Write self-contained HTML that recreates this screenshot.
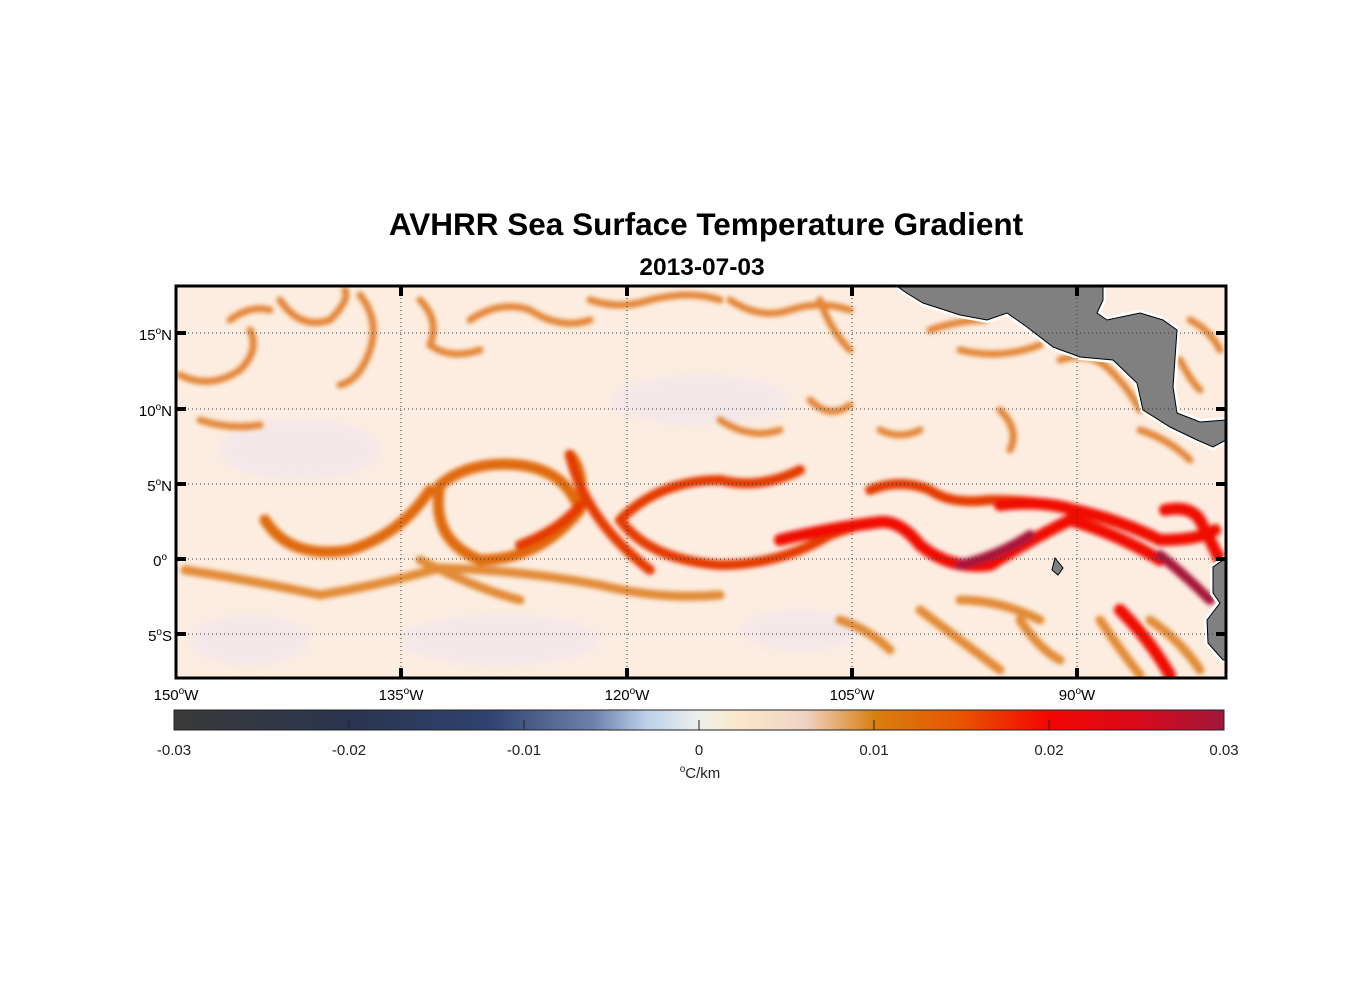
<!DOCTYPE html>
<html><head><style>
body{margin:0;background:#fff;width:1356px;height:1000px;overflow:hidden;font-family:"Liberation Sans",Arial,sans-serif;}
</style></head><body>
<svg width="1356" height="1000" xmlns="http://www.w3.org/2000/svg" font-family="Liberation Sans, Arial, sans-serif">
<defs>
<filter id="b" x="-10%" y="-10%" width="120%" height="120%"><feGaussianBlur stdDeviation="2.2"/></filter>
<filter id="b2" x="-10%" y="-10%" width="120%" height="120%"><feGaussianBlur stdDeviation="5"/></filter>
<clipPath id="c"><rect x="176" y="286" width="1050" height="392"/></clipPath>
<linearGradient id="cb" x1="0" x2="1" y1="0" y2="0">
<stop offset="0" stop-color="#3a3a3a"/>
<stop offset="0.17" stop-color="#2a3450"/>
<stop offset="0.3" stop-color="#2f4370"/>
<stop offset="0.4" stop-color="#6e82ad"/>
<stop offset="0.45" stop-color="#bcd0ea"/>
<stop offset="0.5" stop-color="#eef0ec"/>
<stop offset="0.54" stop-color="#fbe7c9"/>
<stop offset="0.6" stop-color="#f0d3c8"/>
<stop offset="0.667" stop-color="#d8800f"/>
<stop offset="0.75" stop-color="#e85400"/>
<stop offset="0.833" stop-color="#f40600"/>
<stop offset="0.92" stop-color="#d80a1c"/>
<stop offset="1" stop-color="#a0173a"/>
</linearGradient>
</defs>
<text x="706" y="235" font-size="31.5" font-weight="bold" text-anchor="middle">AVHRR Sea Surface Temperature Gradient</text>
<text x="702" y="275" font-size="24.5" font-weight="bold" text-anchor="middle">2013-07-03</text>
<g clip-path="url(#c)">
<rect x="176" y="286" width="1050" height="392" fill="#fcede0"/>
<g filter="url(#b2)" fill="#f1e6ec" opacity="0.8">
<ellipse cx="300" cy="450" rx="80" ry="30"/><ellipse cx="700" cy="400" rx="90" ry="25"/><ellipse cx="500" cy="640" rx="100" ry="25"/><ellipse cx="800" cy="630" rx="60" ry="20"/><ellipse cx="250" cy="640" rx="60" ry="25"/>
</g>
<g fill="none" stroke-linecap="round" filter="url(#b)">
<g stroke="#de7414" stroke-width="7" opacity="0.85">
<path d="M180,375 Q210,390 240,370 Q260,350 250,330"/>
<path d="M280,300 Q300,330 330,320 Q350,300 345,290"/>
<path d="M360,295 Q380,320 370,350 Q360,380 340,385"/>
<path d="M420,300 Q440,320 430,345 Q450,360 480,350"/>
<path d="M470,320 Q500,300 530,310 Q560,330 590,320"/>
<path d="M590,300 Q620,310 650,300 Q690,290 720,300"/>
<path d="M730,300 Q760,320 790,310 Q820,300 850,310"/>
<path d="M820,300 Q830,330 850,350"/>
<path d="M230,320 Q250,305 270,310"/>
<path d="M200,420 Q230,430 260,425"/>
<path d="M810,400 Q830,420 850,405"/>
<path d="M720,420 Q750,440 780,430"/>
<path d="M960,350 Q1000,360 1040,345"/>
<path d="M930,330 Q960,320 985,320"/>
<path d="M1060,360 Q1090,350 1110,370 Q1130,390 1140,410"/>
<path d="M1000,410 Q1020,430 1010,450"/>
<path d="M1180,360 Q1190,380 1200,390"/>
<path d="M1140,430 Q1170,440 1190,460"/>
<path d="M880,430 Q900,440 920,430"/>
<path d="M1190,320 Q1210,330 1220,350"/>
</g>
<g stroke="#dd7a1a" stroke-width="9" opacity="0.85">
<path d="M185,570 Q250,580 320,595 Q380,585 440,568 Q520,570 600,585 Q660,600 720,595"/>
<path d="M420,560 Q480,590 520,600"/>
<path d="M920,610 Q960,640 1000,670"/>
<path d="M1020,620 Q1040,650 1060,660"/>
<path d="M960,600 Q1000,600 1040,620"/>
<path d="M1100,620 Q1120,650 1140,675"/>
<path d="M1150,620 Q1180,640 1200,670"/>
<path d="M840,620 Q870,630 890,650"/>
</g>
<g stroke="#e06b08" stroke-width="11">
<path d="M265,520 Q290,560 350,550 Q400,535 430,490"/>
<path d="M440,485 Q430,540 480,560 Q540,560 580,510 Q585,470 570,455"/>
<path d="M440,485 Q470,460 520,465 Q560,470 575,500"/>
</g>
<g stroke="#e53a05" stroke-width="10">
<path d="M570,455 Q585,520 650,570"/>
<path d="M520,545 Q560,530 580,505"/>
<path d="M620,520 Q660,480 720,480 Q760,490 800,470"/>
<path d="M620,520 Q650,560 720,565 Q780,565 830,535 Q870,520 890,522"/>
<path d="M870,490 Q900,478 930,490 Q950,505 990,500 Q1040,500 1070,510"/>
</g>
<g stroke="#f00800" stroke-width="12">
<path d="M780,540 Q830,528 880,522 Q900,520 920,545 Q950,570 990,565 Q1030,540 1070,520 Q1120,535 1160,560"/>
<path d="M1000,505 Q1040,500 1075,510 Q1120,520 1160,540 Q1200,540 1215,530"/>
<path d="M1165,510 Q1190,505 1200,520 Q1210,540 1220,560"/>
<path d="M1120,610 Q1150,640 1170,675"/>
</g>
<g stroke="#a8183a" stroke-width="10">
<path d="M960,565 Q1000,555 1030,535"/>
<path d="M1160,555 Q1185,575 1210,600"/>
</g>
</g>
<path d="M897,286 L905,292 L923,303 L960,315 L987,320 L1007,313 L1027,327 L1053,347 L1080,357 L1113,360 L1137,383 L1143,410 L1170,427 L1197,440 L1213,447 L1226,440 L1226,420 L1200,422 L1177,413 L1173,387 L1177,330 L1163,320 L1140,313 L1107,320 L1097,313 L1103,300 L1103,286 Z" fill="#808080" stroke="#fff" stroke-width="6"/>
<path d="M897,286 L905,292 L923,303 L960,315 L987,320 L1007,313 L1027,327 L1053,347 L1080,357 L1113,360 L1137,383 L1143,410 L1170,427 L1197,440 L1213,447 L1226,440 L1226,420 L1200,422 L1177,413 L1173,387 L1177,330 L1163,320 L1140,313 L1107,320 L1097,313 L1103,300 L1103,286 Z" fill="#808080" stroke="#000" stroke-width="1"/>
<path d="M1226,558 L1213,567 L1213,593 L1220,603 L1207,620 L1208,643 L1223,660 L1226,660 Z" fill="#808080" stroke="#fff" stroke-width="6"/>
<path d="M1226,558 L1213,567 L1213,593 L1220,603 L1207,620 L1208,643 L1223,660 L1226,660 Z" fill="#808080" stroke="#000" stroke-width="1"/>
<path d="M1055,558 L1063,568 L1058,575 L1052,570 Z" fill="#808080" stroke="#000" stroke-width="1"/>
<g stroke="#333" stroke-width="1" stroke-dasharray="1,3">
<line x1="401" y1="286" x2="401" y2="678"/><line x1="627" y1="286" x2="627" y2="678"/><line x1="852" y1="286" x2="852" y2="678"/><line x1="1077" y1="286" x2="1077" y2="678"/>
<line x1="176" y1="333" x2="1226" y2="333"/><line x1="176" y1="409" x2="1226" y2="409"/><line x1="176" y1="484" x2="1226" y2="484"/><line x1="176" y1="559" x2="1226" y2="559"/><line x1="176" y1="634" x2="1226" y2="634"/>
</g>
</g>
<rect x="176" y="286" width="1050" height="392" fill="none" stroke="#000" stroke-width="3"/>
<g stroke="#000" stroke-width="4">
<line x1="401" y1="286" x2="401" y2="296"/><line x1="627" y1="286" x2="627" y2="296"/><line x1="852" y1="286" x2="852" y2="296"/><line x1="1077" y1="286" x2="1077" y2="296"/>
<line x1="401" y1="668" x2="401" y2="678"/><line x1="627" y1="668" x2="627" y2="678"/><line x1="852" y1="668" x2="852" y2="678"/><line x1="1077" y1="668" x2="1077" y2="678"/>
<line x1="176" y1="333" x2="186" y2="333"/><line x1="176" y1="409" x2="186" y2="409"/><line x1="176" y1="484" x2="186" y2="484"/><line x1="176" y1="559" x2="186" y2="559"/><line x1="176" y1="634" x2="186" y2="634"/>
<line x1="1216" y1="333" x2="1226" y2="333"/><line x1="1216" y1="409" x2="1226" y2="409"/><line x1="1216" y1="484" x2="1226" y2="484"/><line x1="1216" y1="559" x2="1226" y2="559"/><line x1="1216" y1="634" x2="1226" y2="634"/>
</g>
<g font-size="15" text-anchor="end">
<text x="172" y="340">15<tspan dy="-6" font-size="10">o</tspan><tspan dy="6">N</tspan></text>
<text x="172" y="416">10<tspan dy="-6" font-size="10">o</tspan><tspan dy="6">N</tspan></text>
<text x="172" y="491">5<tspan dy="-6" font-size="10">o</tspan><tspan dy="6">N</tspan></text>
<text x="167" y="566">0<tspan dy="-6" font-size="10">o</tspan></text>
<text x="172" y="641">5<tspan dy="-6" font-size="10">o</tspan><tspan dy="6">S</tspan></text>
</g>
<g font-size="15" text-anchor="middle">
<text x="176" y="700">150<tspan dy="-6" font-size="10">o</tspan><tspan dy="6">W</tspan></text>
<text x="401" y="700">135<tspan dy="-6" font-size="10">o</tspan><tspan dy="6">W</tspan></text>
<text x="627" y="700">120<tspan dy="-6" font-size="10">o</tspan><tspan dy="6">W</tspan></text>
<text x="852" y="700">105<tspan dy="-6" font-size="10">o</tspan><tspan dy="6">W</tspan></text>
<text x="1077" y="700">90<tspan dy="-6" font-size="10">o</tspan><tspan dy="6">W</tspan></text>
</g>
<rect x="174" y="710" width="1050" height="20" fill="url(#cb)" stroke="#222" stroke-width="1"/>
<g stroke="#222" stroke-width="1">
<line x1="349" y1="720" x2="349" y2="730"/><line x1="524" y1="720" x2="524" y2="730"/><line x1="699" y1="720" x2="699" y2="730"/><line x1="874" y1="720" x2="874" y2="730"/><line x1="1049" y1="720" x2="1049" y2="730"/>
</g>
<g font-size="15" text-anchor="middle" fill="#222">
<text x="174" y="755">-0.03</text><text x="349" y="755">-0.02</text><text x="524" y="755">-0.01</text><text x="699" y="755">0</text><text x="874" y="755">0.01</text><text x="1049" y="755">0.02</text><text x="1224" y="755">0.03</text>
<text x="700" y="778"><tspan font-size="10" dy="-6">o</tspan><tspan dy="6">C/km</tspan></text>
</g>
</svg>
</body></html>
